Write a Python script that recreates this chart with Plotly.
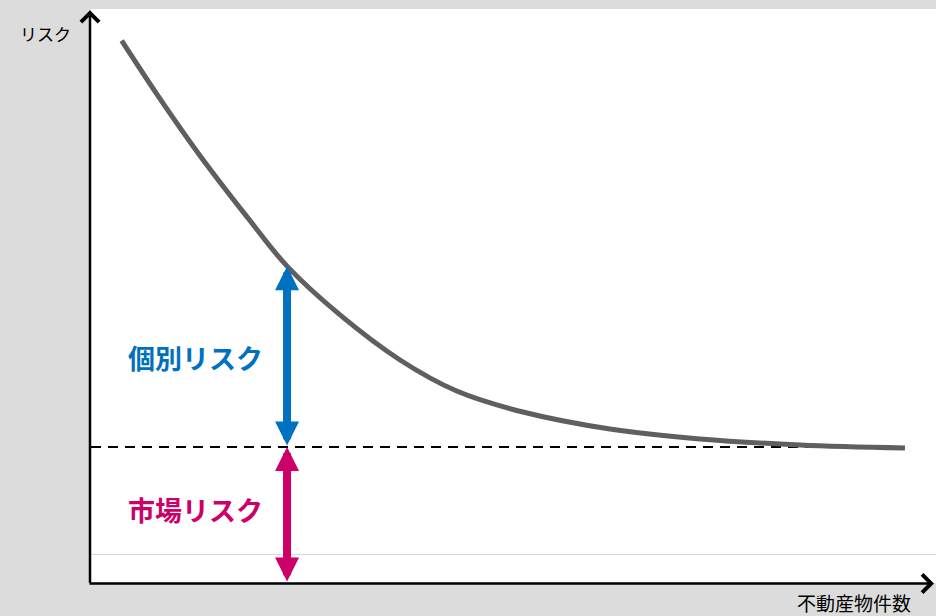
import plotly.graph_objects as go

# --- data ---
num_props = [3.63, 8.17, 12.90, 18.82, 23.20, 29.47, 36.57, 43.28, 51.12, 61.42, 72.07, 83.91, 96.33]
total_risk = [4.797, 4.253, 3.722, 3.115, 2.69, 2.234, 1.813, 1.523, 1.327, 1.168, 1.075, 1.019, 0.991]
market_risk = 1.0
arrow_idx = 4
x_range = [0, 100]
y_range = [-0.271, 5.093]

labels = {
    "specific": "個別リスク",
    "market": "市場リスク",
    "y_title": "リスク",
    "x_title": "不動産物件数",
}
label_x = 12.4
specific_label_y = 1.84
market_label_y = 0.42

BLUE = "#0070C0"
MAGENTA = "#CC0066"
CURVE = "#5f5f5f"
FONT = "Noto Sans CJK JP"

fig = go.Figure()

# dashed market risk line
fig.add_trace(go.Scatter(
    x=[x_range[0], num_props[-1]], y=[market_risk, market_risk],
    mode="lines", line=dict(color="black", width=2, dash="10px,7px"),
    hoverinfo="skip", showlegend=False))

# total risk curve
fig.add_trace(go.Scatter(
    x=num_props, y=total_risk, mode="lines",
    line=dict(color=CURVE, width=5, shape="spline", smoothing=1.0),
    showlegend=False))

ax_x = num_props[arrow_idx]
annotations = [
    # specific risk arrow
    dict(x=ax_x, y=total_risk[arrow_idx], ax=ax_x, ay=market_risk,
         xref="x", yref="y", axref="x", ayref="y", text="",
         showarrow=True, arrowside="end+start", arrowhead=2, startarrowhead=2,
         arrowwidth=8, arrowsize=0.6, startarrowsize=0.6, arrowcolor=BLUE),
    # market risk arrow
    dict(x=ax_x, y=market_risk, ax=ax_x, ay=y_range[0],
         xref="x", yref="y", axref="x", ayref="y", text="",
         showarrow=True, arrowside="end+start", arrowhead=2, startarrowhead=2,
         arrowwidth=8, arrowsize=0.6, startarrowsize=0.6, arrowcolor=MAGENTA),
    # y axis arrow
    dict(x=0, y=0.998, xref="paper", yref="paper", ax=0, ay=574, axref="pixel", ayref="pixel",
         xshift=-1, text="", showarrow=True, arrowhead=4, arrowwidth=2.5, arrowsize=1.4,
         arrowcolor="black"),
    # x axis arrow
    dict(x=0.9976, y=0, xref="paper", yref="paper", ax=-846, ay=0, axref="pixel", ayref="pixel",
         yshift=-0.5, text="", showarrow=True, arrowhead=4, arrowwidth=2.5, arrowsize=1.4,
         arrowcolor="black"),
    # labels
    dict(x=label_x, y=specific_label_y, xref="x", yref="y", showarrow=False,
         xanchor="center", yanchor="middle",
         text="<b>" + labels["specific"] + "</b>", font=dict(family=FONT, size=27, color=BLUE)),
    dict(x=label_x, y=market_label_y, xref="x", yref="y", showarrow=False,
         xanchor="center", yanchor="middle",
         text="<b>" + labels["market"] + "</b>", font=dict(family=FONT, size=27, color=MAGENTA)),
    dict(x=-0.0544, y=0.958, xref="paper", yref="paper", showarrow=False,
         xanchor="center", yanchor="middle",
         text=labels["y_title"], font=dict(family=FONT, size=17, color="black")),
    dict(x=0.903, y=-0.0348, xref="paper", yref="paper", showarrow=False,
         xanchor="center", yanchor="middle",
         text=labels["x_title"], font=dict(family=FONT, size=19, color="black")),
]

fig.update_layout(
    width=936, height=616,
    margin=dict(l=91, r=0, t=9, b=33),
    paper_bgcolor="#dcdcdc", plot_bgcolor="white",
    xaxis=dict(range=x_range, showgrid=False, zeroline=False, showticklabels=False,
               showline=False, ticks=""),
    yaxis=dict(range=y_range, showgrid=False, zeroline=True, zerolinecolor="#d9d9d9",
               zerolinewidth=1, showticklabels=False, showline=False, ticks=""),
    annotations=annotations,
    showlegend=False,
)

fig.write_html("out.html", config={"displayModeBar": False},
               post_script="document.body.style.margin='0';document.body.style.overflow='hidden';")
